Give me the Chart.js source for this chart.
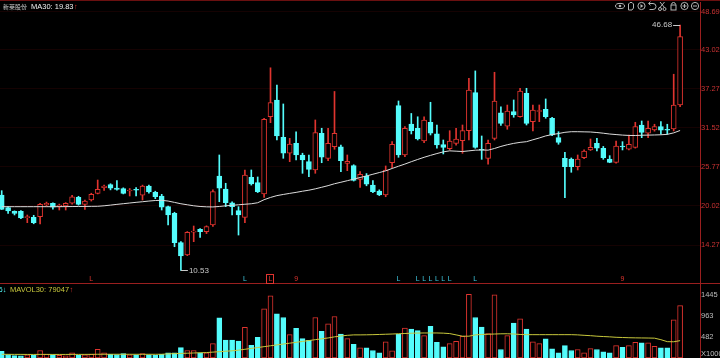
<!DOCTYPE html>
<html>
<head>
<meta charset="utf-8">
<script src="https://cdn.jsdelivr.net/npm/chart.js"></script>
<style>
html, body { margin: 0; padding: 0; background: #000; }
#wrap { position: relative; width: 720px; height: 358px; }
</style>
</head>
<body>
<div id="wrap"><canvas id="mycanvas" width="720" height="358"></canvas></div>
<script>
// ---- data ----
var stockName = "新莱股份";
var maTitle = "MA30: 19.83";
var volTitle = "MAVOL30: 79047";

var openP  = [21.64,19.77,19.24,19.24,18.30,18.35,18.44,20.17,20.42,19.92,20.02,20.42,21.30,20.27,20.90,21.89,22.72,23.16,22.67,22.57,
              22.23,22.40,21.60,22.97,22.04,21.49,19.92,18.94,14.61,12.80,16.18,16.58,16.23,17.22,24.44,22.50,20.50,19.33,18.35,24.25,
              23.46,21.79,33.19,35.65,30.15,27.79,29.26,27.54,26.55,25.33,30.74,27.05,28.76,28.76,26.30,25.96,23.95,24.44,23.12,22.23,
              21.64,26.40,34.81,27.54,32.10,31.47,29.60,32.36,30.64,29.06,28.47,29.26,29.65,31.12,36.73,28.32,27.05,29.99,33.76,31.80,
              33.92,33.19,36.64,32.45,33.95,34.27,32.95,30.09,27.05,26.95,25.82,27.14,28.28,29.26,28.53,26.95,26.46,28.80,28.38,28.67,
              31.96,30.74,31.22,31.71,31.26,31.37,34.91];
var highP  = [22.28,19.92,19.30,19.35,18.69,18.65,20.42,20.60,20.50,20.30,20.52,21.60,21.45,20.90,21.90,23.85,23.10,23.30,23.75,22.70,
              22.60,22.75,23.10,23.10,22.20,21.74,20.00,19.10,14.76,16.25,17.07,16.70,17.10,22.40,27.54,23.37,20.65,19.92,25.33,25.33,
              24.30,32.95,40.39,37.86,35.06,29.99,30.97,27.80,27.54,32.70,31.48,31.48,36.90,29.00,27.54,26.10,25.08,24.80,23.75,22.40,
              25.92,29.50,35.50,31.71,33.66,33.17,33.17,35.31,31.96,29.75,31.12,31.47,31.96,38.85,39.93,30.34,29.75,39.73,34.65,34.90,
              35.65,37.37,37.37,34.91,34.91,35.80,33.10,30.97,27.94,27.10,27.54,28.30,29.90,29.99,28.80,27.44,29.60,29.50,30.49,32.36,
              32.55,32.55,32.07,32.45,32.07,39.44,46.68];
var lowP   = [19.50,18.94,18.70,18.15,17.56,17.40,17.37,19.98,19.55,19.43,19.43,20.30,20.15,19.53,20.75,21.80,22.30,22.40,22.35,21.80,
              21.50,21.50,20.90,21.90,21.10,19.43,17.22,14.02,10.53,12.70,14.76,15.40,15.95,17.00,20.65,19.92,18.69,15.74,17.56,23.10,
              22.00,21.30,32.30,29.75,27.05,26.55,26.80,24.84,24.34,24.84,26.40,26.70,28.38,25.08,25.23,23.70,22.77,23.00,22.00,21.55,
              21.39,25.67,27.20,27.29,30.64,29.75,29.35,30.49,28.53,27.69,28.28,28.97,27.79,29.75,28.53,26.90,26.17,29.75,31.90,31.33,
              33.10,33.10,31.96,31.08,32.45,32.95,30.38,29.12,21.24,24.99,25.33,27.00,28.20,28.13,26.90,26.40,26.35,28.28,28.30,28.55,
              30.09,30.09,31.05,30.59,30.59,31.08,34.66];
var closeP = [19.53,19.28,18.94,18.25,18.38,17.56,20.27,20.42,19.83,20.17,20.42,21.39,20.27,20.75,21.74,22.48,22.97,22.63,22.48,21.89,
              22.38,22.34,22.97,22.08,21.39,19.83,18.69,14.61,12.65,16.14,16.28,16.23,16.97,22.13,22.63,20.50,19.92,18.69,24.59,23.26,
              22.13,32.80,35.26,30.34,27.79,29.16,27.54,26.80,25.43,30.83,27.20,29.26,30.74,26.70,26.60,23.80,24.69,23.22,22.13,21.64,
              25.33,29.12,27.54,31.47,31.12,29.90,32.70,30.74,29.02,28.67,29.60,29.90,31.12,37.12,28.67,28.24,29.26,35.50,32.18,34.00,
              33.44,36.97,32.21,34.17,34.10,33.19,30.49,29.41,25.82,25.82,26.95,28.13,28.67,28.53,27.14,26.46,28.87,28.72,29.12,31.71,
              30.88,31.47,31.71,31.18,31.18,34.91,44.98];
var ma30   = [19.92,19.92,19.92,19.92,19.92,19.92,19.92,19.92,19.92,19.92,19.93,19.94,19.95,19.96,19.97,19.98,20.05,20.15,20.26,20.36,
              20.46,20.56,20.65,20.75,20.83,20.86,20.75,20.55,20.35,20.20,20.05,19.95,19.90,19.88,19.95,20.05,20.12,20.20,20.28,20.35,
              20.50,20.95,21.28,21.55,21.72,21.88,22.03,22.20,22.35,22.55,22.78,23.02,23.30,23.52,23.75,23.98,24.22,24.45,24.70,24.95,
              25.20,25.55,25.88,26.20,26.55,26.88,27.20,27.48,27.75,28.00,28.15,28.10,28.05,28.15,28.25,28.28,28.25,28.50,28.80,29.05,
              29.25,29.40,29.50,29.78,30.05,30.35,30.55,30.70,30.88,30.97,30.97,30.95,30.93,30.85,30.75,30.63,30.55,30.47,30.42,30.41,
              30.45,30.47,30.49,30.52,30.58,30.80,31.15];
// volume, in thousands
var volume = [155,80,57,50,73,64,171,87,73,64,50,118,64,73,87,200,118,87,80,102,
              73,73,102,73,64,87,118,118,239,171,171,118,118,330,920,410,410,387,701,292,
              474,1127,1423,1013,929,535,679,444,405,929,610,786,952,551,444,315,232,232,171,118,
              369,164,551,688,665,626,512,724,360,255,330,383,496,1462,929,710,558,1446,194,512,
              801,899,665,369,330,437,209,118,285,171,194,118,216,194,141,118,285,246,285,360,
              346,346,269,232,232,877,1202];
var mavol30 = [85,84,83,83,82,82,83,83,82,82,82,83,83,83,84,86,86,86,86,86,
               85,85,85,85,85,86,95,100,105,110,115,120,125,135,145,155,165,180,200,220,
               240,260,280,300,320,340,360,380,400,420,440,460,485,505,520,530,530,532,535,540,
               545,550,556,562,568,572,574,574,574,570,560,530,500,500,530,540,545,550,555,556,
               550,540,535,535,535,535,535,535,535,535,530,520,512,500,492,485,475,470,465,462,
               460,458,455,420,375,372,398];

var priceTicks = [14.27, 20.02, 25.77, 31.52, 37.27, 43.02, 48.69];
var volTicks = [482, 963, 1445];

// signal marks under the candles
var markIdx   = [14, 38, 42, 46, 62, 65, 66, 67, 68, 69, 70, 74, 97];
var markText  = ["L","L","L","9","L","L","L","L","L","L","L","L","9"];
var markColor = ["r","c","r","r","c","c","c","c","c","c","c","c","r"];
var markBox   = [42];

var RED = "#e0342f";
var CYAN = "#54fcfc";

var idx = [];
for (var i = 0; i < closeP.length; i++) idx.push(i);
var up = idx.map(function(i){ return closeP[i] >= openP[i]; });

var wickData = idx.map(function(i){ return {x: i, y: [lowP[i], highP[i]]}; });
var bodyData = idx.map(function(i){ return {x: i, y: [openP[i], closeP[i]]}; });
var maData = idx.map(function(i){ return {x: i, y: ma30[i]}; });
var volData = idx.map(function(i){ return {x: i, y: volume[i]}; });
var mavolData = idx.map(function(i){ return {x: i, y: mavol30[i]}; });

var upColor = up.map(function(u){ return u ? RED : CYAN; });
var bodyFill = up.map(function(u){ return u ? "#000" : CYAN; });

function drawIcons(ctx) {
  ctx.save();
  ctx.strokeStyle = "#b4b4b4";
  ctx.fillStyle = "#b4b4b4";
  ctx.lineWidth = 1;
  var y = 6;
  // eye
  ctx.beginPath(); ctx.ellipse(620, y, 4.5, 2.6, 0, 0, Math.PI * 2); ctx.stroke();
  ctx.beginPath(); ctx.arc(620, y, 1.3, 0, Math.PI * 2); ctx.fill();
  // hand
  ctx.beginPath(); ctx.moveTo(628.5, y + 4); ctx.lineTo(628.5, y - 2); ctx.lineTo(630, y - 3.5); ctx.lineTo(632, y - 3.5);
  ctx.lineTo(633.5, y - 2); ctx.lineTo(633.5, y + 2); ctx.lineTo(632, y + 4); ctx.closePath(); ctx.stroke();
  // play
  ctx.beginPath(); ctx.arc(641.5, y, 3.6, 0, Math.PI * 2); ctx.stroke();
  ctx.beginPath(); ctx.moveTo(640.5, y - 2); ctx.lineTo(643.3, y); ctx.lineTo(640.5, y + 2); ctx.closePath(); ctx.fill();
  // undo
  ctx.beginPath(); ctx.moveTo(649, y - 2.5); ctx.lineTo(653, y - 2.5); ctx.arc(653, y + 0.5, 3, -Math.PI / 2, Math.PI / 2); ctx.lineTo(649.5, y + 3.5); ctx.stroke();
  ctx.beginPath(); ctx.moveTo(648.5, y - 2.5); ctx.lineTo(650.5, y - 4.3); ctx.moveTo(648.5, y - 2.5); ctx.lineTo(650.5, y - 0.7); ctx.stroke();
  // scissors
  ctx.beginPath(); ctx.moveTo(660, y - 4); ctx.lineTo(664.5, y + 1.5); ctx.moveTo(664.5, y - 4); ctx.lineTo(660, y + 1.5); ctx.stroke();
  ctx.beginPath(); ctx.arc(660, y + 3, 1.5, 0, Math.PI * 2); ctx.stroke();
  ctx.beginPath(); ctx.arc(664.5, y + 3, 1.5, 0, Math.PI * 2); ctx.stroke();
  // lock
  ctx.strokeRect(671, y - 1, 5, 5);
  ctx.beginPath(); ctx.arc(673.5, y - 1.5, 2, Math.PI, 0); ctx.stroke();
  // zoom in / zoom out
  ctx.beginPath(); ctx.arc(684.5, y, 3.6, 0, Math.PI * 2); ctx.stroke();
  ctx.beginPath(); ctx.moveTo(682.5, y); ctx.lineTo(686.5, y); ctx.moveTo(684.5, y - 2); ctx.lineTo(684.5, y + 2); ctx.stroke();
  ctx.beginPath(); ctx.arc(695, y, 3.6, 0, Math.PI * 2); ctx.stroke();
  ctx.beginPath(); ctx.moveTo(693, y); ctx.lineTo(697, y); ctx.stroke();
  ctx.restore();
}

var overlay = {
  id: "overlay",
  beforeDraw: function(chart) {
    var ctx = chart.ctx;
    ctx.save();
    ctx.fillStyle = "#000";
    ctx.fillRect(0, 0, chart.width, chart.height);
    ctx.restore();
  },
  afterDraw: function(chart) {
    var ctx = chart.ctx;
    var xs = chart.scales.x, ys = chart.scales.y, yv = chart.scales.yv;
    ctx.save();
    // frame lines
    ctx.strokeStyle = "#6a1010";
    ctx.lineWidth = 1;
    ctx.beginPath(); ctx.moveTo(0, 0.5); ctx.lineTo(720, 0.5); ctx.stroke();
    ctx.strokeStyle = "#9a1f1f";
    ctx.beginPath(); ctx.moveTo(0, Math.round(yv.top) + 0.5); ctx.lineTo(720, Math.round(yv.top) + 0.5); ctx.stroke();

    // titles
    ctx.textBaseline = "middle";
    ctx.font = "6px 'Noto Sans CJK SC', 'Liberation Sans', sans-serif";
    var x = 3;
    ctx.fillStyle = "#c8c8c8"; ctx.fillText(stockName, x, 6.5); x += ctx.measureText(stockName).width + 4;
    ctx.font = "7.5px 'Liberation Sans', sans-serif";
    ctx.fillStyle = "#f0f0f0"; ctx.fillText(maTitle, x, 6.5); x += ctx.measureText(maTitle).width + 0.5;
    ctx.fillStyle = RED; ctx.fillText("↑", x, 6.5);

    var vy = yv.top + 6.5;
    ctx.fillStyle = CYAN; ctx.fillText("6↓", -1.5, vy);
    x = 10;
    ctx.fillStyle = "#c8c83c"; ctx.fillText(volTitle, x, vy); x += ctx.measureText(volTitle).width + 0.5;
    ctx.fillStyle = RED; ctx.fillText("↑", x, vy);

    // X1000 under the volume axis
    ctx.fillStyle = "#bebebe";
    ctx.font = "7.5px 'Liberation Sans', sans-serif";
    ctx.fillText("X1000", 701, 354);

    // highest / lowest labels
    var hi = 0, lo = 0;
    for (var i = 1; i < highP.length; i++) {
      if (highP[i] > highP[hi]) hi = i;
      if (lowP[i] < lowP[lo]) lo = i;
    }
    ctx.strokeStyle = "#c8c8c8";
    ctx.fillStyle = "#c8c8c8";
    ctx.font = "8px 'Liberation Sans', sans-serif";
    var hx = xs.getPixelForValue(hi), hy = ys.getPixelForValue(highP[hi]);
    ctx.beginPath(); ctx.moveTo(hx, Math.round(hy) + 0.5); ctx.lineTo(hx - 7, Math.round(hy) + 0.5); ctx.stroke();
    ctx.textAlign = "right"; ctx.fillText(highP[hi].toFixed(2), hx - 8, hy);
    var lx = xs.getPixelForValue(lo), ly = ys.getPixelForValue(lowP[lo]);
    ctx.beginPath(); ctx.moveTo(lx, Math.round(ly) + 0.5); ctx.lineTo(lx + 7, Math.round(ly) + 0.5); ctx.stroke();
    ctx.textAlign = "left"; ctx.fillText(lowP[lo].toFixed(2), lx + 8, ly);

    // signal marks
    ctx.font = "7px 'Liberation Sans', sans-serif";
    ctx.textAlign = "center";
    for (var k = 0; k < markIdx.length; k++) {
      var mx = xs.getPixelForValue(markIdx[k]);
      var col = markColor[k] === "r" ? RED : "#3fc8e0";
      ctx.fillStyle = col;
      ctx.fillText(markText[k], mx, 279);
      if (markBox.indexOf(markIdx[k]) >= 0) {
        ctx.strokeStyle = RED;
        ctx.strokeRect(Math.round(mx) - 3.5, 274.5, 7, 9);
      }
    }
    ctx.restore();
    drawIcons(ctx);
  }
};

function fitRight(s) {
  s.width = 20;
  s.paddingTop = 0;
  s.paddingBottom = 0;
}

var ctx = document.getElementById("mycanvas");

var chart = new Chart(ctx, {
  data: {
    datasets: [
      {
        type: "line",
        data: maData,
        yAxisID: "y",
        borderColor: "#dcdcdc",
        borderWidth: 1,
        pointRadius: 0,
        order: 0
      },
      {
        type: "bar",
        data: bodyData,
        yAxisID: "y",
        backgroundColor: bodyFill,
        borderColor: upColor,
        borderWidth: 1,
        borderSkipped: false,
        barThickness: 5,
        minBarLength: 1,
        grouped: false,
        order: 1
      },
      {
        type: "bar",
        data: wickData,
        yAxisID: "y",
        backgroundColor: upColor,
        borderWidth: 0,
        barThickness: 1,
        grouped: false,
        order: 2
      },
      {
        type: "line",
        data: mavolData,
        yAxisID: "yv",
        borderColor: "#c8c83c",
        borderWidth: 1,
        pointRadius: 0,
        order: 3
      },
      {
        type: "bar",
        data: volData,
        yAxisID: "yv",
        backgroundColor: bodyFill,
        borderColor: upColor,
        borderWidth: 1,
        borderSkipped: false,
        barThickness: 5,
        grouped: false,
        order: 4
      }
    ]
  },
  options: {
    responsive: false,
    animation: false,
    devicePixelRatio: 1,
    layout: { padding: { top: 2, left: 0, right: 0, bottom: 0 } },
    plugins: { legend: { display: false }, tooltip: { enabled: false } },
    scales: {
      x: { type: "linear", offset: false, min: -0.266, max: 109.11, display: false },
      y: {
        type: "linear",
        position: "right",
        stack: "pane",
        stackWeight: 281,
        min: 8.67,
        max: 50.09,
        afterFit: fitRight,
        afterBuildTicks: function(s) { s.ticks = priceTicks.map(function(v){ return {value: v}; }); },
        ticks: {
          color: "#c83232",
          padding: 1,
          autoSkip: false,
          font: { size: 7.5, family: "'Liberation Sans', sans-serif" },
          callback: function(v) { return Number(v).toFixed(2); }
        },
        grid: { color: "rgba(70,8,8,0.3)", drawTicks: false },
        border: { display: true, color: "#9a1f1f" }
      },
      yv: {
        type: "linear",
        position: "right",
        stack: "pane",
        stackWeight: 75,
        min: 0,
        max: 1720,
        afterFit: fitRight,
        afterBuildTicks: function(s) { s.ticks = volTicks.map(function(v){ return {value: v}; }); },
        ticks: {
          color: "#bebebe",
          padding: 1,
          autoSkip: false,
          font: { size: 7.5, family: "'Liberation Sans', sans-serif" },
          callback: function(v) { return String(v); }
        },
        grid: { display: false, drawTicks: false },
        border: { display: true, color: "#9a1f1f" }
      }
    }
  },
  plugins: [overlay]
});
</script>
</body>
</html>
